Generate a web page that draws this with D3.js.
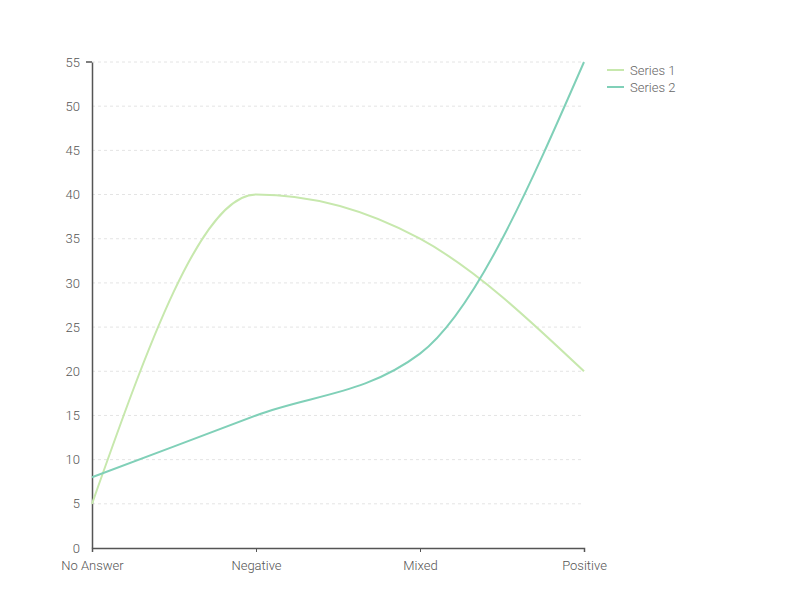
<!DOCTYPE html>
<html>
<head>
<meta charset="utf-8">
<script src="https://cdn.jsdelivr.net/npm/d3@7"></script>
<style>
body { margin: 0; background: #fff; }
text { font-family: Roboto, sans-serif; font-weight: 300; }
</style>
</head>
<body>
<svg id="chart" width="800" height="600"></svg>
<script>
const categories = ['No Answer', 'Negative', 'Mixed', 'Positive'];
const series1 = [5, 40, 35, 20];
const series2 = [8, 15, 22, 55];
const seriesNames = ['Series 1', 'Series 2'];
const yTicks = [0, 5, 10, 15, 20, 25, 30, 35, 40, 45, 50, 55];

const colors = ['#c7e8ad', '#80d0b8'];
const margin = { top: 62, right: 216, bottom: 52, left: 92 };
const width = 800 - margin.left - margin.right;
const height = 600 - margin.top - margin.bottom;

const svg = d3.select('#chart');
const g = svg.append('g').attr('transform', `translate(${margin.left},${margin.top})`);

const x = d3.scalePoint().domain(categories).range([0, width]);
const y = d3.scaleLinear().domain([0, 55]).range([height, 0]);

// grid
g.append('g')
	.selectAll('line')
	.data(yTicks.filter(d => d > 0))
	.join('line')
	.attr('x1', 0)
	.attr('x2', width)
	.attr('y1', d => y(d))
	.attr('y2', d => y(d))
	.attr('stroke', '#e4e4e4')
	.attr('stroke-dasharray', '3,3');

const yAxis = g.append('g').call(d3.axisLeft(y).tickValues(yTicks).tickSize(0).tickPadding(12));
yAxis.select('.domain').attr('stroke', '#555').attr('stroke-width', 1.5);
yAxis.selectAll('text').attr('fill', '#555').style('font-size', '13px');
// small cap at top of the y axis
g.append('line')
	.attr('x1', -6).attr('x2', 0)
	.attr('y1', y(55)).attr('y2', y(55))
	.attr('stroke', '#555').attr('stroke-width', 1.5);

const xAxis = g.append('g')
	.attr('transform', `translate(0,${height})`)
	.call(d3.axisBottom(x).tickSize(4).tickPadding(9));
xAxis.select('.domain').attr('stroke', '#555').attr('stroke-width', 1.5);
xAxis.selectAll('.tick line').attr('stroke', '#555');
xAxis.selectAll('text').attr('fill', '#555').style('font-size', '13px');

const line = d3.line()
	.x((d, i) => x(categories[i]))
	.y(d => y(d))
	.curve(d3.curveMonotoneX);

[series1, series2].forEach((s, i) => {
	g.append('path')
		.datum(s)
		.attr('fill', 'none')
		.attr('stroke', colors[i])
		.attr('stroke-width', 2)
		.attr('d', line);
});

// legend
const legend = svg.append('g').attr('transform', 'translate(607,70)');
seriesNames.forEach((name, i) => {
	const row = legend.append('g').attr('transform', `translate(0,${i * 17})`);
	row.append('line')
		.attr('x1', 0).attr('x2', 17)
		.attr('stroke', colors[i]).attr('stroke-width', 2);
	row.append('text')
		.attr('x', 23).attr('dy', '0.35em')
		.attr('fill', '#666').style('font-size', '13px')
		.text(name);
});
</script>
</body>
</html>
